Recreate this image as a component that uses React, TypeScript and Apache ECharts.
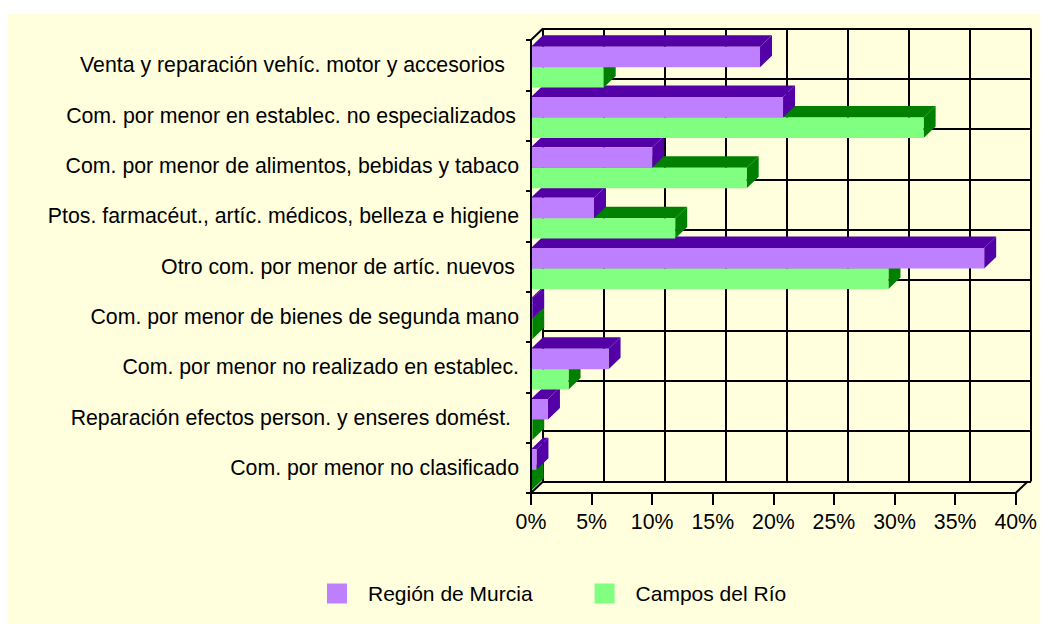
import React, { useEffect, useRef } from "react";
import * as echarts from "echarts";

const categories = [
  "Venta y reparación vehíc. motor y accesorios",
  "Com. por menor en establec. no especializados",
  "Com. por menor de alimentos, bebidas y tabaco",
  "Ptos. farmacéut., artíc. médicos, belleza e higiene",
  "Otro com. por menor de artíc. nuevos",
  "Com. por menor de bienes de segunda mano",
  "Com. por menor no realizado en establec.",
  "Reparación efectos person. y enseres domést.",
  "Com. por menor no clasificado",
];
const murcia = [18.9, 20.8, 10.0, 5.2, 37.4, 0.1, 6.4, 1.4, 0.45];
const campos = [6.0, 32.4, 17.8, 11.9, 29.5, 0.1, 3.1, 0.1, 0.05];
const seriesNames = ["Región de Murcia", "Campos del Río"];
const xTicks = { min: 0, max: 40, interval: 5 };

const labelPad: Record<string, number> = {
  "Venta y reparación vehíc. motor y accesorios": 14,
  "Com. por menor en establec. no especializados": 3,
  "Otro com. por menor de artíc. nuevos": 4,
  "Reparación efectos person. y enseres domést.": 8,
};

const FRONT = ["#BF80FF", "#80FF80"];
const DARK = ["#5300A6", "#008000"];
const DX = 12;
const DY = -11.5;
const FS = 21.3;

export default function App() {
  const ref = useRef<HTMLDivElement>(null);
  useEffect(() => {
    if (!ref.current) return;
    const chart = echarts.init(ref.current, null, { renderer: "svg" });

    const barData: number[][] = [];
    for (let i = categories.length - 1; i >= 0; i--) {
      barData.push([campos[i], i, 1]);
      barData.push([murcia[i], i, 0]);
    }

    const font = "Liberation Sans, Arial, sans-serif";

    chart.setOption({
      animation: false,
      backgroundColor: "#FFFFDD",
      textStyle: { fontFamily: font },
      grid: [
        { left: 523, top: 26, width: 488, height: 453 },
        { left: 535, top: 14.5, width: 488, height: 453 },
      ],
      xAxis: [
        {
          type: "value",
          gridIndex: 0,
          min: xTicks.min,
          max: xTicks.max,
          interval: xTicks.interval,
          axisLine: { show: true, lineStyle: { color: "#000", width: 2 } },
          axisTick: { show: true, length: 12, lineStyle: { color: "#000", width: 2 } },
          axisLabel: {
            formatter: "{value}%",
            color: "#000",
            fontSize: FS,
            fontFamily: font,
            margin: 18,
          },
          splitLine: { show: false },
          z: 3,
        },
        {
          type: "value",
          gridIndex: 1,
          min: xTicks.min,
          max: xTicks.max,
          interval: xTicks.interval,
          axisLine: { show: false },
          axisTick: { show: false },
          axisLabel: { show: false },
          splitLine: { show: true, lineStyle: { color: "#000", width: 2 } },
        },
      ],
      yAxis: [
        {
          type: "category",
          gridIndex: 0,
          inverse: true,
          data: categories,
          axisLine: { show: true, lineStyle: { color: "#000", width: 2 } },
          axisTick: { show: true, length: 5, lineStyle: { color: "#000", width: 2 } },
          axisLabel: {
            color: "#000",
            fontSize: FS,
            fontFamily: font,
            margin: 12,
            formatter: (v: string) => (labelPad[v] ? `{p${labelPad[v]}|${v}}` : v),
            rich: {
              p14: { padding: [0, 14, 0, 0], fontSize: FS, color: "#000" },
              p3: { padding: [0, 3, 0, 0], fontSize: FS, color: "#000" },
              p4: { padding: [0, 4, 0, 0], fontSize: FS, color: "#000" },
              p8: { padding: [0, 8, 0, 0], fontSize: FS, color: "#000" },
            },
          },
          splitLine: { show: false },
          z: 3,
        },
        {
          type: "category",
          gridIndex: 1,
          inverse: true,
          data: categories,
          axisLine: { show: false },
          axisTick: { show: false },
          axisLabel: { show: false },
          splitLine: { show: true, lineStyle: { color: "#000", width: 2 } },
        },
      ],
      legend: {
        data: seriesNames,
        left: 314,
        top: 564,
        itemWidth: 20,
        itemHeight: 20,
        itemGap: 62,
        icon: "rect",
        selectedMode: false,
        textStyle: {
          color: "#000",
          fontSize: 21,
          fontFamily: font,
          rich: { t: { padding: [0, 0, 0, 16], fontSize: 21, color: "#000", fontFamily: font } },
        },
        formatter: (name: string) => `{t|${name}}`,
      },
      series: [
        {
          name: seriesNames[0],
          type: "bar",
          xAxisIndex: 0,
          yAxisIndex: 0,
          data: [],
          itemStyle: { color: FRONT[0] },
        },
        {
          name: seriesNames[1],
          type: "bar",
          xAxisIndex: 0,
          yAxisIndex: 0,
          data: [],
          itemStyle: { color: FRONT[1] },
        },
        {
          type: "custom",
          xAxisIndex: 0,
          yAxisIndex: 0,
          data: [[0, 0]],
          silent: true,
          z: 1,
          renderItem: (params: any, api: any) => {
            const n = categories.length;
            const band = api.size([0, 1])[1];
            const tl = api.coord([xTicks.min, 0]);
            const bl = api.coord([xTicks.min, n - 1]);
            const br = api.coord([xTicks.max, n - 1]);
            const yTop = tl[1] - band / 2;
            const yBot = bl[1] + band / 2;
            const ls = { stroke: "#000", lineWidth: 2 };
            return {
              type: "group",
              children: [
                { type: "line", shape: { x1: tl[0], y1: yTop, x2: tl[0] + DX, y2: yTop + DY }, style: ls },
                { type: "line", shape: { x1: bl[0], y1: yBot, x2: bl[0] + DX, y2: yBot + DY }, style: ls },
                { type: "line", shape: { x1: br[0], y1: yBot, x2: br[0] + DX, y2: yBot + DY }, style: ls },
              ],
            };
          },
        },
        {
          type: "custom",
          xAxisIndex: 0,
          yAxisIndex: 0,
          data: barData,
          silent: true,
          encode: { x: 0, y: 1 },
          renderItem: (params: any, api: any) => {
            const v = api.value(0);
            const cat = api.value(1);
            const s = api.value(2);
            const c0 = api.coord([0, cat]);
            const c1 = api.coord([v, cat]);
            const band = api.size([0, 1])[1];
            const h = band * 0.407;
            const top = c0[1] - band / 2 + band * 0.132 + s * h;
            const x0 = c0[0];
            const x1 = c1[0];
            return {
              type: "group",
              children: [
                {
                  type: "polygon",
                  shape: { points: [[x0, top], [x1, top], [x1 + DX, top + DY], [x0 + DX, top + DY]] },
                  style: { fill: DARK[s] },
                },
                {
                  type: "polygon",
                  shape: { points: [[x1, top], [x1 + DX, top + DY], [x1 + DX, top + h + DY], [x1, top + h]] },
                  style: { fill: DARK[s] },
                },
                {
                  type: "rect",
                  shape: { x: x0, y: top, width: Math.max(0, x1 - x0), height: h },
                  style: { fill: FRONT[s] },
                },
              ],
            };
          },
        },
      ],
    });
    return () => chart.dispose();
  }, []);

  return (
    <div
      ref={ref}
      style={{
        position: "fixed",
        left: 8,
        top: 14,
        width: 1032,
        height: 610,
        background: "#FFFFDD",
      }}
    />
  );
}
